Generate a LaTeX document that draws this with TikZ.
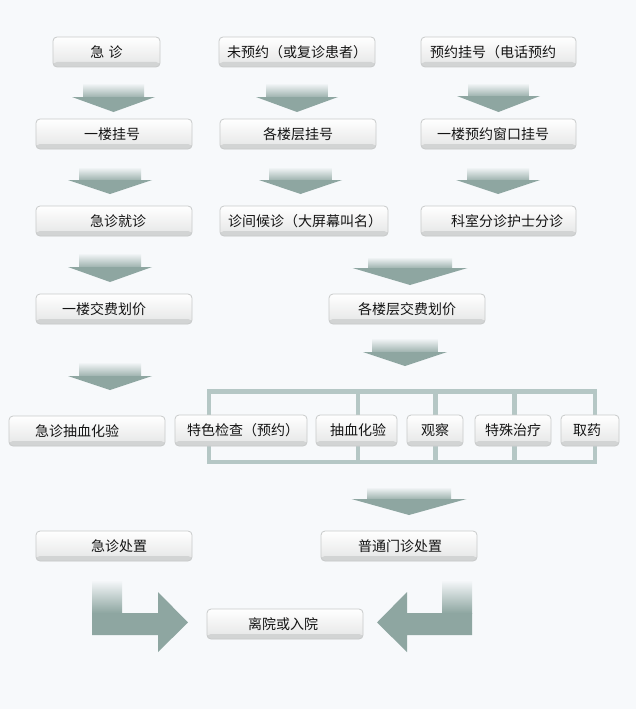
\documentclass[tikz,border=0pt]{standalone}
\usepackage{fontspec}
\newfontfamily\cjk{Noto Sans CJK SC}
\usetikzlibrary{fit}
\definecolor{bgc}{RGB}{247,249,251}
\definecolor{arrc}{RGB}{142,166,161}
\definecolor{brc}{RGB}{181,199,197}
\definecolor{boxline}{RGB}{200,202,202}
\definecolor{boxbot}{RGB}{228,229,229}
\definecolor{bandc}{RGB}{210,212,212}
\definecolor{txtc}{RGB}{20,20,20}
\tikzset{
  boxst/.style={draw=boxline, line width=0.8pt, rounded corners=4pt, inner sep=0pt,
    top color=white, bottom color=boxbot,
    path picture={\fill[bandc] ([yshift=5pt]path picture bounding box.south west) rectangle (path picture bounding box.south east);}},
  txt/.style={font=\cjk\fontsize{14}{15}\selectfont, inner sep=0pt, text=txtc},
  bracket/.style={draw=brc, line width=4.5pt},
  arrfill/.style={fill=arrc},
}
% box: name, x1, y1, x2, y2, text x, text
\newcommand{\bx}[7]{%
  \node[boxst, fit={(#2,#3)(#4,#5)}] (#1) {};
  \node[txt] (#1t) at (#6,{(#3+#5)/2}) {#7};
}
% down arrow: cx, top, headstart, tip, shaft width, head width
\newcommand{\darr}[6]{%
  \shade[top color=bgc, bottom color=arrc!85!white] ({#1-#5/2},#2) rectangle ({#1+#5/2},#3);
  \fill[arrfill] ({#1-#6/2},#3) -- ({#1+#6/2},#3) -- (#1,#4) -- cycle;
}
\begin{document}
\begin{tikzpicture}[x=1pt,y=-1pt]
\fill[bgc] (0,0) rectangle (636,709);
\useasboundingbox (0,0) rectangle (636,709);

% bracket
\draw[bracket] (209,415) -- (209,391.5) -- (595,391.5) -- (595,415);
\draw[bracket] (358,391.5) -- (358,415);
\draw[bracket] (435.5,391.5) -- (435.5,415);
\draw[bracket] (514.5,391.5) -- (514.5,415);
\draw[bracket] (209,446) -- (209,462) -- (595,462) -- (595,446);
\draw[bracket] (358,462) -- (358,446);
\draw[bracket] (435.5,462) -- (435.5,446);
\draw[bracket] (514.5,462) -- (514.5,446);

% boxes
\bx{a1}{53}{37}{160}{67}{106.5}{急\hspace{0.3em}诊}
\bx{b1}{219}{37}{375}{67}{297}{未预约（或复诊患者）}
\bx{c1}{421}{37}{576}{67}{493}{预约挂号（电话预约}
\bx{a2}{36}{119}{192}{149}{112}{一楼挂号}
\bx{b2}{220}{119}{376}{149}{298}{各楼层挂号}
\bx{c2}{421}{119}{576}{149}{493}{一楼预约窗口挂号}
\bx{a3}{36}{206}{192}{236}{118}{急诊就诊}
\bx{b3}{220}{206}{388}{236}{305}{诊间候诊（大屏幕叫名）}
\bx{c3}{421}{206}{576}{236}{507}{科室分诊护士分诊}
\bx{a4}{36}{294}{192}{324}{104}{一楼交费划价}
\bx{b4}{329}{294}{485}{324}{407}{各楼层交费划价}
\bx{a5}{9}{416}{165}{446}{77}{急诊抽血化验}
\bx{d1}{175}{415}{307}{446}{243}{特色检查（预约）}
\bx{d2}{316}{415}{397}{446}{358}{抽血化验}
\bx{d3}{407}{415}{463}{446}{435}{观察}
\bx{d4}{475}{415}{551}{446}{513}{特殊治疗}
\bx{d5}{561}{415}{619}{446}{587}{取药}
\bx{a6}{36}{531}{192}{561}{119}{急诊处置}
\bx{b6}{321}{531}{477}{561}{400}{普通门诊处置}
\bx{e}{207}{609}{363}{639}{283}{离院或入院}

% down arrows
\darr{113.5}{83}{97}{112}{61}{83}
\darr{297}{83}{97}{112}{61}{82}
\darr{498.5}{83}{96}{112}{60}{83}
\darr{110}{167}{180}{194}{62}{84}
\darr{300.5}{167}{180}{194}{62}{83}
\darr{498}{167}{180}{194}{62}{84}
\darr{110}{253}{267}{282}{62}{84}
\darr{410}{257}{268}{285}{84}{115}
\darr{110}{362}{376}{390}{62}{84}
\darr{405}{338}{352}{366}{65}{84}
\darr{409}{487}{499}{515}{84}{115}

% bent arrows to exit
\shade[top color=bgc, bottom color=arrc] (92,580) rectangle (122,613);
\fill[arrfill] (92,613) -- (158,613) -- (158,592) -- (188,622.5) -- (158,652) -- (158,635) -- (92,635) -- cycle;
\shade[top color=bgc, bottom color=arrc] (442,580) rectangle (472,613);
\fill[arrfill] (472,613) -- (407,613) -- (407,592) -- (377,622.5) -- (407,652) -- (407,635) -- (472,635) -- cycle;
\end{tikzpicture}
\end{document}
